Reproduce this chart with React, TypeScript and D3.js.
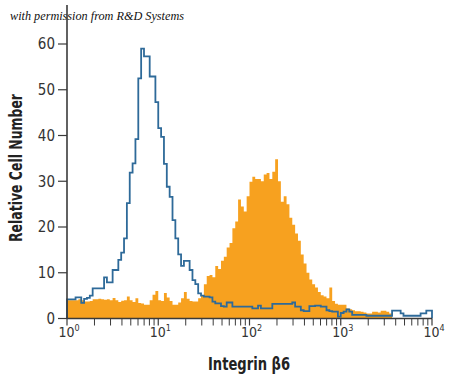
import React from "react";
import * as d3 from "d3";

// Histogram channels: 128 equal bins in log10 space from 10^0 to 10^4
const binCount = 128;
const xDomain = [1, 10000];
const yDomain = [0, 60];
const yTicks = [0, 10, 20, 30, 40, 50, 60];
const xDecades = [0, 1, 2, 3, 4];

// Isotype control (blue outline)
const controlCounts = [
  4.2, 4.2, 4.2, 4.6, 4.6, 3.4, 4.3, 4.5, 5.0, 6.6,
  6.6, 6.6, 6.6, 9.0, 7.9, 7.9, 10.6, 10.6, 12.8, 14.4,
  17.5, 25.2, 31.9, 33.9, 39.2, 52.5, 59.0, 57.3, 57.3, 52.9,
  52.9, 47.3, 41.6, 39.7, 33.8, 28.8, 26.6, 21.5, 17.5, 14.0,
  11.5, 12.6, 12.6, 10.6, 8.4, 7.5, 5.5, 5.0, 4.8, 4.8,
  4.6, 3.7, 3.3, 3.3, 2.7, 2.6, 3.5, 3.5, 2.6, 2.6,
  2.6, 2.6, 2.6, 2.6, 2.6, 2.2, 2.2, 2.8, 2.2, 2.2,
  2.2, 2.2, 3.2, 3.2, 3.2, 3.2, 3.2, 3.2, 3.2, 3.5,
  2.6, 2.6, 1.8, 1.6, 1.6, 2.7, 2.7, 2.8, 2.8, 2.6,
  2.6, 1.8, 1.6, 1.5, 1.5, 0.4, 1.2, 1.5, 2.0, 1.5,
  0.8, 0.8, 0.8, 0.8, 0.8, 0.6, 0.6, 0.6, 0.6, 0.6,
  0.6, 0.6, 0.6, 0.6, 1.7, 1.7, 1.7, 1.1, 0.6, 0.6,
  0.6, 0.6, 0.6, 0.6, 1.1, 1.1, 1.7, 1.7,
];

// Integrin beta6 stained (orange filled)
const stainedCounts = [
  4.0, 4.0, 4.0, 4.0, 4.2, 4.0, 3.7, 3.7, 3.8, 4.2,
  4.2, 4.3, 4.2, 4.1, 4.2, 4.0, 4.5, 4.0, 3.6, 3.9,
  4.0, 4.8, 4.0, 3.6, 4.4, 3.4, 3.3, 3.0, 3.0, 4.0,
  5.2, 6.0, 4.0, 3.8, 5.6, 4.6, 3.8, 3.0, 3.0, 3.5,
  4.4, 5.8, 4.3, 3.8, 3.7, 3.7, 4.4, 5.0, 7.5, 9.3,
  9.5, 9.0, 11.5, 10.8, 12.6, 13.5, 15.5, 16.5, 19.7, 21.2,
  26.0, 24.5, 23.4, 26.7, 29.9, 31.0, 30.5, 30.5, 30.0, 31.5,
  31.8, 30.5, 32.1, 34.8, 30.0, 25.5, 26.7, 25.0, 22.0, 20.5,
  18.6, 17.0, 14.0, 12.0, 10.0, 8.5, 7.5, 6.8, 5.8, 5.1,
  4.8, 4.4, 6.8, 3.8, 3.2, 3.0, 3.0, 3.0, 2.2, 2.0,
  1.8, 1.6, 1.6, 1.5, 1.3, 1.1, 1.1, 1.5, 1.5, 1.3,
  1.7, 1.7, 1.5, 1.1, 0, 0, 0, 0, 0, 0,
  0, 0, 0, 0, 0, 0, 0, 0,
];

const title = "with permission from R&D Systems";
const xLabel = "Integrin β6";
const yLabel = "Relative Cell Number";

const W = 450;
const H = 380;
const left = 67;
const right = 432;
const bottom = 318.5;
const top = 44;

export default function App() {
  const x = d3.scaleLog().domain(xDomain).range([left, right]);
  const y = d3.scaleLinear().domain(yDomain).range([bottom, top]);

  const edge = (i: number) => Math.pow(10, (i * 4) / binCount);

  const stepPoints = (counts: number[]) => {
    const pts: [number, number][] = [[edge(0), 0]];
    counts.forEach((c, i) => {
      pts.push([edge(i), c]);
      pts.push([edge(i + 1), c]);
    });
    pts.push([edge(counts.length), 0]);
    return pts;
  };

  const area = d3
    .area<[number, number]>()
    .x((d) => x(d[0]))
    .y0(y(0))
    .y1((d) => y(d[1]));
  const line = d3
    .line<[number, number]>()
    .x((d) => x(d[0]))
    .y((d) => y(d[1]));

  const minor: number[] = [];
  for (let dcd = 0; dcd < 4; dcd++) {
    for (let k = 2; k <= 9; k++) minor.push(k * Math.pow(10, dcd));
  }

  const axisColor = "#3a3a3a";
  const font = "'DejaVu Sans Condensed', 'DejaVu Sans', sans-serif";

  return (
    <svg
      width={W}
      height={H}
      style={{ position: "absolute", left: 0, top: 0, background: "#fff" }}
    >
      <rect x={0} y={0} width={W} height={H} fill="#fff" />
      <text
        x={10}
        y={20}
        fontFamily="'Liberation Serif', 'DejaVu Serif', serif"
        fontStyle="italic"
        fontSize={13}
        fill="#111"
        textLength={174}
        lengthAdjust="spacingAndGlyphs"
      >
        {title}
      </text>

      <path d={area(stepPoints(stainedCounts)) || ""} fill="#F7A11F" />
      <path
        d={line(stepPoints(controlCounts)) || ""}
        fill="none"
        stroke="#2E6A99"
        strokeWidth={1.8}
      />

      {/* axes */}
      <line x1={left} x2={left} y1={5} y2={bottom} stroke={axisColor} strokeWidth={1.6} />
      <line x1={left} x2={right} y1={bottom} y2={bottom} stroke={axisColor} strokeWidth={1.6} />

      {yTicks.map((t) => (
        <g key={"y" + t}>
          <line x1={left - 9} x2={left} y1={y(t)} y2={y(t)} stroke={axisColor} strokeWidth={1.2} />
          <text
            x={left - 12}
            y={y(t)}
            dy="0.36em"
            textAnchor="end"
            fontFamily={font}
            fontSize={15}
            fill="#333"
          >
            {t}
          </text>
        </g>
      ))}

      {xDecades.map((p) => (
        <g key={"x" + p}>
          <line
            x1={x(Math.pow(10, p))}
            x2={x(Math.pow(10, p))}
            y1={bottom}
            y2={bottom + 7}
            stroke={axisColor}
            strokeWidth={1.2}
          />
          <text
            x={x(Math.pow(10, p)) + 2}
            y={337}
            textAnchor="middle"
            fontFamily={font}
            fontSize={14}
            fill="#333"
          >
            10
            <tspan dy={-6} fontSize={9}>
              {p}
            </tspan>
          </text>
        </g>
      ))}
      {minor.map((m) => (
        <line
          key={"m" + m}
          x1={x(m)}
          x2={x(m)}
          y1={bottom}
          y2={bottom + 7}
          stroke={axisColor}
          strokeWidth={1}
        />
      ))}

      <text
        x={249}
        y={370}
        textAnchor="middle"
        fontFamily={font}
        fontWeight="bold"
        fontSize={18}
        fill="#222"
        textLength={82}
        lengthAdjust="spacingAndGlyphs"
      >
        {xLabel}
      </text>
      <text
        transform={`translate(22,168) rotate(-90)`}
        textAnchor="middle"
        fontFamily={font}
        fontWeight="bold"
        fontSize={17}
        fill="#222"
        textLength={148}
        lengthAdjust="spacingAndGlyphs"
      >
        {yLabel}
      </text>
    </svg>
  );
}
